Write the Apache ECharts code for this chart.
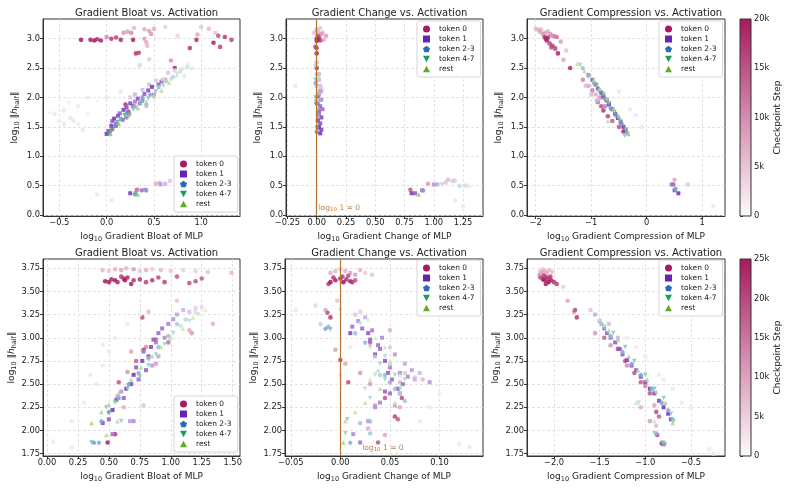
<!DOCTYPE html>
<html>
<head>
<meta charset="utf-8">
<script src="https://cdn.jsdelivr.net/npm/echarts@6/dist/echarts.min.js"></script>
<style>
  html, body { margin: 0; padding: 0; background: #fff; }
  #chart { width: 788px; height: 489px; }
</style>
</head>
<body>
<div id="chart"></div>
<script>
// token groups
var tokenNames = ['token 0', 'token 1', 'token 2-3', 'token 4-7', 'rest'];
var tokenColors = ['#a8195f', '#6a22b0', '#2a6cb5', '#1a9e60', '#62ab26'];
var tokenSymbols = [
  'circle',
  'rect',
  'path://M0,-10L9.51,-3.09L5.88,8.09L-5.88,8.09L-9.51,-3.09Z',
  'path://M-10,-8L10,-8L0,10Z',
  'path://M0,-10L10,8L-10,8Z'
];

// tick labels
var ticksBloatTopX = [-0.5, 0, 0.5, 1];
var ticksChangeTopX = [-0.25, 0, 0.25, 0.5, 0.75, 1, 1.25];
var ticksComprTopX = [-2, -1, 0, 1];
var ticksTopY = [0, 0.5, 1, 1.5, 2, 2.5, 3];
var ticksBloatBotX = [0, 0.25, 0.5, 0.75, 1, 1.25, 1.5];
var ticksChangeBotX = [-0.05, 0, 0.05, 0.1];
var ticksComprBotX = [-2, -1.5, -1, -0.5];
var ticksBotY = [1.75, 2, 2.25, 2.5, 2.75, 3, 3.25, 3.5, 3.75];
var ticksStepTop = [0, 5, 10, 15, 20];
var ticksStepBot = [0, 5, 10, 15, 20, 25];

// points: [log10 x-metric, log10 |h_half|, checkpoint step (k)]
// ---- top row: bloat ----
var bloatTop0 = [[-0.27,2.98,19],[-0.17,2.98,18],[-0.13,2.97,19],[-0.1,2.99,17],[-0.06,2.97,18],[0.05,3.0,16],[0.1,3.02,15],[0.15,2.98,17],[0.28,2.98,18],[0.31,2.75,16],[0.34,2.76,15],[0.72,2.5,18],[0.88,2.84,16],[0.95,2.98,17],[1.13,2.93,18],[1.18,3.05,14],[1.2,2.86,15],[1.25,3.03,16],[1.32,2.98,15],[0.2,1.88,17],[0.23,1.76,15],[0.1,1.52,17],[0.06,1.46,14],[0.32,0.43,12],
  [0.0,3.03,9],[0.18,3.1,8],[0.22,3.12,7],[0.26,3.1,9],[0.4,3.16,6],[0.45,3.13,7],[0.5,3.17,6],[0.47,3.08,8],[0.29,3.18,5],[0.4,3.0,7],[0.42,2.94,6],[0.43,2.88,5],[0.96,3.07,6],[1.08,3.17,5],[1.0,3.2,4],[1.15,3.1,4],[0.68,2.63,8],[0.6,2.3,7],[0.52,0.53,6],[0.56,0.55,5],[0.35,2.55,3],[0.45,2.65,3],[0.62,3.2,3],[0.75,3.05,3],
  [-0.55,1.72,1],[-0.45,1.78,1],[-0.38,1.65,1.5],[-0.3,1.85,1],[-0.2,2.0,1],[0.05,0.25,1],[-0.1,0.35,1]];
var bloatTop1 = [[0.0,1.38,18],[0.02,1.43,15],[0.05,1.52,17],[0.06,1.6,14],[0.08,1.64,18],[0.1,1.56,12],[0.12,1.69,16],[0.14,1.73,13],[0.17,1.62,14],[0.18,1.79,17],[0.21,1.83,15],[0.21,1.66,12],[0.24,1.72,10],[0.25,1.9,16],[0.28,1.86,13],[0.3,1.93,11],[0.33,1.98,15],[0.35,1.9,12],[0.38,2.0,10],[0.4,2.06,14],[0.44,2.12,16],[0.48,2.18,17],[0.5,2.05,9],[0.55,2.22,14],[0.58,2.27,12],[0.62,2.3,8],
  [0.3,2.05,6],[0.38,2.13,5],[0.45,2.22,5],[0.52,2.29,4],[0.65,2.42,4],[0.72,2.46,3],[0.25,2.0,4],[0.42,1.86,7],
  [0.25,0.37,17],[0.37,0.42,12],[0.41,0.43,10],[0.57,0.52,8],[0.62,0.53,6],[0.67,0.58,4],
  [-0.45,1.55,1],[-0.35,1.6,1],[-0.25,1.45,1],[0.0,2.0,1],[0.15,2.1,1.5]];
var bloatTop2 = [[0.03,1.4,16],[0.09,1.52,14],[0.15,1.64,12],[0.22,1.74,15],[0.3,1.85,10],[0.38,1.95,13],[0.46,2.05,11],[0.55,2.18,8],[0.63,2.28,6],[0.7,2.35,5],[0.78,2.45,4],[0.85,2.52,3],[0.3,0.36,14],[0.42,0.42,12],[-0.5,1.6,1],[-0.3,1.55,1]];
var bloatTop4 = [[0.05,1.43,15],[0.12,1.58,13],[0.19,1.7,14],[0.28,1.8,11],[0.36,1.9,12],[0.44,1.98,10],[0.52,2.1,9],[0.6,2.2,7],[0.68,2.3,5],[0.75,2.4,4],[0.82,2.35,3],[0.9,2.48,3],[0.31,0.37,13],[-0.4,1.9,1],[-0.2,1.7,1]];
var bloatTopRest = [[0.04,1.38,14],[0.13,1.55,12],[0.23,1.7,13],[0.33,1.82,10],[0.42,1.92,11],[0.5,2.02,9],[0.58,2.12,8],[0.66,2.25,6],[0.74,2.38,5],[0.8,2.5,4],[0.86,2.58,3],[0.6,2.32,5],[0.33,0.35,12],[-0.6,1.75,1],[-0.1,1.95,1]];

// ---- top row: change ----
var changeTop0 = [[0.0,3.0,19],[0.01,2.98,18],[0.0,2.96,17],[0.02,3.02,16],[0.03,2.97,15],[0.01,3.05,14],[-0.01,2.86,16],[0.0,2.84,15],[0.0,2.75,18],[0.0,2.5,17],[0.01,2.02,16],[0.0,1.9,15],[0.02,1.78,14],[0.01,1.62,13],[0.02,1.48,12],
  [0.0,3.15,6],[0.01,3.12,5],[0.03,3.18,4],[0.05,3.1,5],[0.08,3.05,7],[0.06,2.98,6],[0.04,3.08,8],[-0.02,3.1,5],[0.0,2.6,5],[0.02,2.4,6],[0.03,2.2,5],[0.01,2.3,7],[0.04,2.1,6],
  [0.8,0.43,13],[0.95,0.53,7],[1.12,0.6,5],[1.1,0.55,4],[1.18,0.58,3],[-0.18,2.2,1],[0.05,2.15,1],[1.25,0.15,1],[1.18,0.25,1]];
var changeTop1 = [[0.03,1.39,18],[0.04,1.45,16],[0.02,1.5,17],[0.03,1.56,15],[0.01,1.6,14],[0.04,1.66,16],[0.02,1.72,13],[0.05,1.8,12],[0.03,1.85,14],[0.01,1.9,11],[0.04,1.96,10],[0.02,2.05,9],[0.03,2.12,8],[0.0,2.2,6],[0.02,2.3,5],
  [0.81,0.37,17],[0.84,0.37,14],[0.9,0.42,12],[1.0,0.52,9],[1.03,0.52,7],[1.16,0.58,4],[1.27,0.5,3]];
var changeTop2 = [[0.0,1.42,15],[0.01,1.7,12],[-0.01,2.25,10],[0.0,2.4,7],[-0.01,2.55,5],[0.02,1.95,9],[0.91,0.42,12],[1.22,0.5,4]];
var changeTop4 = [[0.0,1.48,13],[-0.01,2.0,11],[-0.01,2.3,9],[0.0,2.55,6],[0.01,1.8,10],[1.07,0.52,6]];
var changeTopRest = [[0.0,1.45,12],[0.01,2.1,10],[-0.01,1.97,9],[0.0,2.6,5],[0.02,2.35,7],[0.87,0.35,12],[1.3,0.5,3]];

// ---- top row: compression ----
var comprTop0 = [[-1.82,3.0,19],[-1.8,2.97,18],[-1.78,3.02,17],[-1.84,3.03,16],[-1.75,2.92,15],[-1.7,2.88,16],[-1.65,2.84,14],[-1.6,2.75,18],[-1.38,2.5,17],[-1.72,2.85,13],
  [-2.0,3.17,5],[-1.95,3.15,6],[-1.92,3.12,7],[-1.9,3.16,4],[-1.87,3.08,8],[-1.83,3.1,7],[-1.78,3.12,6],[-1.74,3.08,8],[-1.7,3.05,9],[-1.66,3.04,10],[-1.62,3.03,11],[-1.55,2.95,7],[-1.5,2.64,6],[-1.45,2.8,4],[-1.65,2.82,9],
  [-1.15,2.3,9],[-1.05,2.2,7],[-0.98,2.12,10],[-0.88,1.92,12],[-0.82,1.85,14],[-0.78,1.78,16],[-0.7,1.68,15],[-0.62,1.6,13],[-0.5,1.5,14],[-0.42,1.42,17],[-0.85,2.0,8],[-0.92,2.05,6],
  [0.48,0.52,13],[0.5,0.6,6],[0.74,0.52,4]];
var comprTop1 = [[-1.05,2.38,12],[-0.98,2.3,14],[-0.92,2.22,16],[-0.88,2.15,15],[-0.82,2.08,17],[-0.78,2.02,16],[-0.72,1.95,18],[-0.68,1.88,17],[-0.62,1.8,18],[-0.57,1.72,17],[-0.52,1.65,18],[-0.47,1.58,17],[-0.42,1.5,18],[-0.38,1.45,17],
  [-0.8,2.0,9],[-0.9,1.95,6],[-1.0,2.05,5],[-1.1,2.2,5],[-0.75,1.85,10],[0.45,0.52,12],[0.5,0.42,14],[0.57,0.37,18],
  [-0.5,2.1,1],[-0.3,1.8,1],[-0.1,1.5,1],[-0.2,1.7,1],[1.2,0.15,1]];
var comprTop2 = [[-1.15,2.5,8],[-0.95,2.25,11],[-0.85,2.12,12],[-0.75,1.98,13],[-0.65,1.82,13],[-0.55,1.7,13],[-0.45,1.55,13],[-0.35,1.4,12],[0.52,0.45,12]];
var comprTop4 = [[-1.2,2.55,7],[-1.05,2.35,10],[-0.9,2.2,11],[-0.78,2.05,12],[-0.68,1.9,12],[-0.58,1.75,12],[-0.48,1.6,12],[-0.38,1.45,11],[-0.4,1.35,10]];
var comprTopRest = [[-1.25,2.58,6],[-1.12,2.45,8],[-0.95,2.3,9],[-0.85,2.15,10],[-0.72,1.98,11],[-0.6,1.8,11],[-0.5,1.68,10],[-0.33,1.38,11],[-0.7,1.6,7]];

// ---- bottom row: bloat ----
var bloatBot0 = [[0.47,3.61,24],[0.5,3.6,23],[0.52,3.63,22],[0.55,3.62,24],[0.57,3.6,21],[0.6,3.66,20],[0.63,3.62,25],[0.65,3.65,22],[0.68,3.58,23],[0.7,3.62,21],[0.75,3.63,20],[0.8,3.6,19],[0.85,3.62,20],[0.9,3.65,18],[0.95,3.6,19],[1.05,3.66,17],[1.15,3.59,18],[1.2,3.61,17],[1.25,3.64,16],[0.62,3.64,22],[0.49,1.87,23],[0.55,1.96,20],[0.77,3.22,18],[0.58,2.52,17],[0.72,2.75,16],[0.78,2.87,19],[0.88,2.98,15],[0.98,2.95,14],
  [0.45,3.73,6],[0.5,3.72,5],[0.55,3.74,7],[0.6,3.73,8],[0.64,3.75,6],[0.7,3.74,9],[0.75,3.72,5],[0.8,3.73,7],[0.85,3.74,4],[0.92,3.73,6],[1.0,3.72,5],[1.1,3.73,4],[1.2,3.72,4],[1.3,3.71,5],[1.49,3.7,6],[0.82,3.28,6],[1.05,3.4,5],[1.34,3.15,7],[1.15,3.08,8],[1.17,3.05,9],[0.65,2.63,10],[0.8,2.9,11],[0.57,2.37,9],[0.62,2.25,7],[0.78,2.27,5],[0.68,2.85,8],[0.88,2.72,9]];
var bloatBot1 = [[0.45,2.08,20],[0.5,2.12,18],[0.53,2.22,22],[0.56,2.33,19],[0.62,2.35,17],[0.64,2.45,21],[0.68,2.5,20],[0.7,2.6,22],[0.72,2.68,18],[0.74,2.55,16],[0.77,2.75,21],[0.78,2.85,15],[0.8,2.65,17],[0.82,2.8,19],[0.84,2.9,20],[0.86,2.98,18],[0.88,2.95,14],[0.9,3.05,16],[0.93,3.1,15],[0.95,3.0,12],[0.98,3.15,13],[1.02,3.2,11],[1.05,3.25,9],[1.1,3.3,7],[1.15,3.28,6],[1.2,3.32,4],[1.25,3.33,3],[0.53,1.96,15],[0.7,2.1,12],[0.67,2.1,10],[0.9,2.8,9],[0.85,2.7,10],[0.6,2.42,11],
  [0.2,2.1,1],[0.3,2.3,1],[0.4,2.5,1],[0.45,2.7,1],[0.5,2.85,1],[0.55,3.0,1],[0.65,3.15,1],[0.75,3.25,1],[0.05,1.88,1],[0.2,1.82,1],[0.35,2.6,1],[0.45,2.92,1]];
var bloatBot2 = [[0.38,1.87,15],[0.42,1.87,13],[0.44,2.1,14],[0.5,2.2,16],[0.58,2.35,14],[0.66,2.5,15],[0.74,2.62,13],[0.82,2.78,12],[0.9,2.9,11],[0.98,3.02,10],[1.05,3.15,8],[1.12,3.2,6],[1.2,3.28,4]];
var bloatBot4 = [[0.36,1.87,14],[0.48,2.25,13],[0.55,2.3,12],[0.6,2.1,10],[0.65,2.45,13],[0.75,2.58,12],[0.82,2.7,11],[0.88,2.82,10],[0.95,2.93,9],[1.02,3.05,8],[1.08,3.12,7],[1.15,3.18,6],[1.22,3.25,5]];
var bloatBotRest = [[0.36,2.08,13],[0.44,2.2,12],[0.5,2.28,11],[0.58,2.4,12],[0.68,2.55,11],[0.76,2.68,10],[0.85,2.8,10],[0.92,2.9,9],[1.0,3.0,8],[1.1,3.1,7],[1.18,3.22,6],[1.28,3.3,4],[0.57,2.1,9],[0.48,1.95,11]];

// ---- bottom row: change ----
var changeBot0 = [[-0.01,3.6,24],[-0.005,3.62,23],[0.0,3.64,22],[0.003,3.6,25],[0.006,3.63,21],[0.01,3.61,22],[-0.007,3.65,20],[0.002,3.66,19],[0.008,3.67,18],[0.012,3.6,20],[-0.012,3.58,19],[0.015,3.62,17],[-0.01,3.22,20],[-0.013,3.27,18],[0.0,2.76,19],[0.008,2.52,18],[0.045,2.35,17],[0.055,2.15,19],[0.058,2.12,16],[0.062,2.35,18],[0.038,1.87,17],[0.03,2.95,16],
  [-0.005,3.72,6],[0.0,3.74,5],[0.005,3.72,7],[0.01,3.7,8],[0.02,3.73,6],[0.025,3.7,4],[0.015,3.68,9],[0.032,3.68,5],[-0.01,3.7,7],[-0.015,3.3,8],[-0.003,3.4,5],[-0.005,2.87,9],[0.005,2.72,8],[0.02,2.62,10],[0.03,2.5,9],[0.05,3.08,7],[0.06,2.52,6],[0.075,2.57,5],[0.083,2.55,6],[0.045,1.95,8],[0.028,2.02,7],[0.035,2.27,9],[0.06,2.25,8],[0.065,2.62,5]];
var changeBot1 = [[0.01,3.05,20],[0.012,3.12,15],[0.018,3.18,12],[0.022,3.1,16],[0.025,3.22,8],[0.028,3.05,18],[0.03,2.98,17],[0.032,3.08,14],[0.035,2.82,19],[0.038,2.92,15],[0.04,2.88,16],[0.042,3.0,12],[0.045,2.75,18],[0.048,2.62,17],[0.05,2.68,14],[0.052,2.55,16],[0.055,2.82,10],[0.058,2.45,18],[0.06,2.62,12],[0.063,2.5,15],[0.065,2.72,9],[0.068,2.58,13],[0.072,2.65,10],[0.075,2.55,8],[0.08,2.62,7],[0.09,2.52,11],[0.05,2.4,16],[0.045,2.42,17],[0.04,2.3,13],[0.035,2.25,12],[0.028,2.1,11],[0.02,1.87,15],[0.013,1.96,12],[0.06,2.4,14],[0.055,2.27,10],[0.02,3.28,4],[0.015,3.25,5],
  [0.12,1.85,1],[0.13,1.82,1],[0.08,2.1,1],[0.09,2.25,1],[-0.045,3.3,1],[0.1,2.4,1],[0.01,2.9,1],[0.0,2.6,1]];
var changeBot2 = [[-0.015,3.1,14],[-0.012,3.12,12],[-0.02,3.15,6],[0.015,3.05,10],[0.025,2.95,11],[0.035,2.8,9],[0.045,2.6,11],[0.05,2.52,12],[0.055,2.45,10],[0.06,2.4,8],[0.065,2.32,9],[0.03,2.1,11],[0.02,2.08,10],[0.01,1.87,12],[0.03,1.97,9],[0.04,2.6,7],[0.05,2.9,6],[-0.025,3.35,4]];
var changeBot4 = [[-0.01,3.09,13],[0.0,3.3,4],[0.02,3.15,6],[0.03,2.9,8],[0.04,2.72,9],[0.045,2.55,10],[0.05,2.7,8],[0.055,2.6,9],[0.06,2.45,10],[0.025,2.45,7],[0.03,2.35,8],[0.035,2.6,6],[0.007,2.12,11],[0.005,1.97,10],[0.045,2.8,7],[0.065,2.55,8]];
var changeBotRest = [[0.003,1.87,12],[0.005,2.1,9],[0.015,2.2,7],[0.025,2.3,8],[0.03,2.55,7],[0.038,2.65,8],[0.045,2.9,6],[0.04,2.45,9],[0.05,2.75,7],[0.055,2.3,8],[0.035,3.0,5],[0.028,3.2,4],[0.06,2.6,6]];

// ---- bottom row: compression ----
var comprBot0 = [[-2.12,3.63,24],[-2.1,3.62,23],[-2.08,3.65,22],[-2.06,3.6,25],[-2.05,3.64,21],[-2.03,3.62,22],[-2.0,3.6,20],[-1.97,3.58,19],[-2.09,3.58,23],[-2.11,3.67,20],[-2.15,3.65,18],[-2.04,3.66,19],[-1.77,3.3,18],[-1.75,3.22,20],[-1.3,2.88,18],[-1.22,2.75,19],[-1.12,2.62,17],[-1.05,2.52,16],[-0.95,2.4,17],[-0.88,2.2,18],[-0.85,2.15,16],[-0.82,1.86,21],[-0.87,1.95,19],[-1.45,3.0,16],
  [-2.15,3.72,6],[-2.12,3.74,5],[-2.1,3.72,7],[-2.08,3.7,8],[-2.05,3.73,6],[-2.13,3.7,9],[-2.02,3.71,5],[-2.16,3.68,10],[-1.85,3.4,8],[-1.78,3.28,10],[-1.9,3.55,4],[-1.55,3.05,9],[-1.38,2.92,10],[-1.2,2.7,11],[-1.0,2.48,12],[-1.05,2.25,7],[-0.9,2.27,8],[-0.95,2.1,9],[-0.88,2.05,6]];
var comprBot1 = [[-1.55,3.25,8],[-1.5,3.18,10],[-1.45,3.1,14],[-1.42,3.05,17],[-1.38,3.0,16],[-1.33,2.95,18],[-1.28,2.88,19],[-1.25,2.82,17],[-1.2,2.76,20],[-1.15,2.7,18],[-1.1,2.65,19],[-1.05,2.58,21],[-1.0,2.52,20],[-0.95,2.45,22],[-0.9,2.4,21],[-0.85,2.32,20],[-0.8,2.25,22],[-0.75,2.18,21],[-0.72,2.12,20],[-0.8,1.85,16],[-1.6,3.3,5],[-1.4,3.15,6],[-1.3,3.0,7],
  [-1.2,3.0,1],[-1.0,2.8,1],[-0.85,2.6,1],[-0.7,2.45,1],[-0.6,2.3,1],[-0.5,2.25,1],[-0.3,1.8,1],[-0.25,1.75,1],[-1.1,2.9,1],[-0.8,2.55,1]];
var comprBot2 = [[-1.48,3.15,10],[-1.38,3.02,12],[-1.25,2.85,13],[-1.15,2.72,14],[-1.05,2.6,14],[-0.93,2.45,13],[-0.82,2.3,14],[-0.75,2.22,13],[-0.7,2.12,12],[-0.79,1.86,14],[-0.88,1.97,12]];
var comprBot4 = [[-1.45,3.12,9],[-1.35,3.05,11],[-1.22,2.9,12],[-1.12,2.75,13],[-1.0,2.6,12],[-0.9,2.45,13],[-0.8,2.35,12],[-0.72,2.18,12],[-0.69,2.1,11],[-0.81,1.87,13],[-0.9,1.97,11],[-1.07,2.3,6]];
var comprBotRest = [[-1.5,3.2,8],[-1.4,3.08,10],[-1.3,2.98,11],[-1.18,2.8,12],[-1.08,2.65,11],[-0.98,2.55,12],[-0.88,2.42,11],[-0.78,2.3,12],[-0.7,2.08,11],[-0.9,2.1,7],[-1.1,2.3,6]];

var panels = [
  {title: 'Gradient Bloat vs. Activation', metric: 'Gradient Bloat of MLP', grid: {left: 43, top: 19, width: 197, height: 197},
   x: [-0.672, 1.41], y: [-0.017, 3.335], xTicks: ticksBloatTopX, yTicks: ticksTopY, xd: 1, yd: 1,
   data: [bloatTop0, bloatTop1, bloatTop2, bloatTop4, bloatTopRest], legend: {left: 174, bottom: 277}, stepMax: 20},
  {title: 'Gradient Change vs. Activation', metric: 'Gradient Change of MLP', grid: {left: 286, top: 19, width: 197, height: 197},
   x: [-0.262, 1.42], y: [-0.017, 3.335], xTicks: ticksChangeTopX, yTicks: ticksTopY, xd: 2, yd: 1,
   data: [changeTop0, changeTop1, changeTop2, changeTop4, changeTopRest], legend: {left: 417, top: 21}, stepMax: 20,
   zeroLabel: [0, 0.12]},
  {title: 'Gradient Compression vs. Activation', metric: 'Gradient Compression of MLP', grid: {left: 527, top: 19, width: 198, height: 197},
   x: [-2.157, 1.41], y: [-0.017, 3.335], xTicks: ticksComprTopX, yTicks: ticksTopY, xd: 0, yd: 1,
   data: [comprTop0, comprTop1, comprTop2, comprTop4, comprTopRest], legend: {left: 659, top: 21}, stepMax: 20},
  {title: 'Gradient Bloat vs. Activation', metric: 'Gradient Bloat of MLP', grid: {left: 43, top: 259, width: 197, height: 197},
   x: [-0.032, 1.559], y: [1.724, 3.85], xTicks: ticksBloatBotX, yTicks: ticksBotY, xd: 2, yd: 2,
   data: [bloatBot0, bloatBot1, bloatBot2, bloatBot4, bloatBotRest], legend: {left: 174, bottom: 37}, stepMax: 25},
  {title: 'Gradient Change vs. Activation', metric: 'Gradient Change of MLP', grid: {left: 285, top: 259, width: 198, height: 197},
   x: [-0.0558, 0.1438], y: [1.724, 3.85], xTicks: ticksChangeBotX, yTicks: ticksBotY, xd: 2, yd: 2,
   data: [changeBot0, changeBot1, changeBot2, changeBot4, changeBotRest], legend: {left: 417, top: 260}, stepMax: 25,
   zeroLabel: [0.02, 1.81]},
  {title: 'Gradient Compression vs. Activation', metric: 'Gradient Compression of MLP', grid: {left: 527, top: 259, width: 198, height: 197},
   x: [-2.296, -0.127], y: [1.724, 3.85], xTicks: ticksComprBotX, yTicks: ticksBotY, xd: 1, yd: 2,
   data: [comprBot0, comprBot1, comprBot2, comprBot4, comprBotRest], legend: {left: 659, top: 260}, stepMax: 25}
];

var colorbars = [
  {grid: {left: 740, top: 19, width: 11, height: 197}, max: 20, ticks: ticksStepTop},
  {grid: {left: 740, top: 259, width: 11, height: 197}, max: 25, ticks: ticksStepBot}
];

var FONT = 'DejaVu Sans';
var TXT = '#222';

function hexRgb(h) {
  return [parseInt(h.substr(1, 2), 16), parseInt(h.substr(3, 2), 16), parseInt(h.substr(5, 2), 16)];
}
// white -> token colour, by checkpoint step
function stepColor(base, f) {
  f = Math.max(0, Math.min(1, f));
  var c = hexRgb(base);
  return 'rgb(' + c.map(function (v) { return Math.round(255 + (v - 255) * f); }).join(',') + ')';
}
function fmt(d) {
  return function (v) {
    var s = Math.abs(v).toFixed(d);
    return (v < 0 ? '\u2212' : '') + s;
  };
}

var rich = {
  a: {fontSize: 9, color: TXT, fontFamily: FONT},
  i: {fontSize: 9, color: TXT, fontFamily: FONT, fontStyle: 'italic'},
  s: {fontSize: 6.5, color: TXT, fontFamily: FONT, padding: [5, 0, 0, 0]}
};

var option = {
  animation: false,
  backgroundColor: '#fff',
  title: [], grid: [], xAxis: [], yAxis: [], legend: [], series: [], graphic: []
};

function axis(gi, range, ticks, d, name, gap) {
  return {
    type: 'value', gridIndex: gi, min: range[0], max: range[1],
    axisLine: {show: true, onZero: false, lineStyle: {color: '#333', width: 1}},
    axisTick: {show: true, customValues: ticks, length: 3, lineStyle: {color: '#333'}},
    axisLabel: {customValues: ticks, formatter: fmt(d), fontSize: 8.3, color: TXT, fontFamily: FONT, margin: 3},
    splitLine: {show: true, lineStyle: {color: '#dcdcdc', type: [3, 2], width: 0.8}},
    name: name, nameLocation: 'middle', nameGap: gap,
    nameTextStyle: {rich: rich}
  };
}

panels.forEach(function (p, pi) {
  var cx = p.grid.left + p.grid.width / 2;
  option.title.push({
    text: p.title, left: cx, top: p.grid.top - 16, textAlign: 'center',
    textStyle: {fontSize: 10, fontWeight: 'normal', color: TXT, fontFamily: FONT}
  });
  option.grid.push(Object.assign({show: true, borderColor: '#333', borderWidth: 1, backgroundColor: 'transparent'}, p.grid));
  option.xAxis.push(axis(pi, p.x, p.xTicks, p.xd, '{a|log}{s|10}{a| ' + p.metric + '}', 15));
  option.yAxis.push(axis(pi, p.y, p.yTicks, p.yd, '{a|log}{s|10}{a| \u2016}{i|h}{s|half}{a|\u2016}', pi === 3 ? 24 : 22));

  option.legend.push(Object.assign({
    orient: 'vertical',
    itemWidth: 7, itemHeight: 7, itemGap: 2,
    padding: [4, 6, 4, 6],
    backgroundColor: '#fff', borderColor: '#ccc', borderWidth: 0.8, borderRadius: 2,
    width: 50,
    textStyle: {fontSize: 7.5, color: TXT, fontFamily: FONT, padding: [0, 0, 0, 4]},
    data: tokenNames.map(function (n, k) {
      return {name: n, icon: tokenSymbols[k], itemStyle: {color: tokenColors[k], opacity: 1}};
    })
  }, p.legend));

  p.data.forEach(function (pts, k) {
    var s = {
      type: 'scatter', name: tokenNames[k], xAxisIndex: pi, yAxisIndex: pi,
      symbol: tokenSymbols[k], symbolSize: k === 1 ? 4 : 4.6,
      data: pts.slice().sort(function (a, b) { return a[2] - b[2]; }),
      itemStyle: {
        opacity: 0.9,
        color: (function (base, mx) {
          return function (params) { return stepColor(base, 0.06 + 0.94 * params.data[2] / mx); };
        })(tokenColors[k], p.stepMax)
      },
      emphasis: {disabled: true},
      z: 2 + (k === 0 ? 0 : 1)
    };
    if (k === 0 && p.zeroLabel) {
      s.markLine = {
        silent: true, symbol: 'none', animation: false,
        lineStyle: {color: '#b8722f', width: 1.2, type: 'solid'},
        label: {show: false},
        data: [{xAxis: 0}]
      };
      s.markPoint = {
        silent: true, symbol: 'circle', symbolSize: 0,
        label: {
          show: true, position: 'right', distance: 2,
          formatter: '{a|log}{s|10}{a| 1 = 0}',
          rich: {
            a: {fontSize: 7.5, color: '#c57f3c', fontFamily: FONT},
            s: {fontSize: 5.5, color: '#c57f3c', fontFamily: FONT, padding: [4, 0, 0, 0]}
          }
        },
        data: [{coord: p.zeroLabel}]
      };
    }
    option.series.push(s);
  });
});

colorbars.forEach(function (cb, ci) {
  var gi = panels.length + ci;
  option.grid.push(Object.assign({show: false}, cb.grid));
  option.xAxis.push({type: 'value', gridIndex: gi, min: 0, max: 1, show: false});
  option.yAxis.push({
    type: 'value', gridIndex: gi, position: 'right', min: 0, max: cb.max,
    axisLine: {show: false},
    axisTick: {show: true, customValues: cb.ticks, length: 3, lineStyle: {color: '#333'}},
    axisLabel: {customValues: cb.ticks, fontSize: 8.3, color: TXT, fontFamily: FONT, margin: 3,
      formatter: function (v) { return v === 0 ? '0' : v + 'k'; }},
    splitLine: {show: false},
    name: 'Checkpoint Step', nameLocation: 'middle', nameGap: 22,
    nameTextStyle: {fontSize: 9, color: TXT, fontFamily: FONT}
  });
  option.graphic.push({
    type: 'rect', z: 10, silent: true,
    shape: {x: cb.grid.left, y: cb.grid.top, width: cb.grid.width, height: cb.grid.height},
    style: {
      fill: {type: 'linear', x: 0, y: 0, x2: 0, y2: 1, colorStops: [
        {offset: 0, color: stepColor(tokenColors[0], 1)},
        {offset: 0.5, color: stepColor(tokenColors[0], 0.5)},
        {offset: 1, color: stepColor(tokenColors[0], 0.02)}
      ]},
      stroke: '#333', lineWidth: 1
    }
  });
});

var chart = echarts.init(document.getElementById('chart'), null, {renderer: 'canvas'});
chart.setOption(option);
</script>
</body>
</html>
